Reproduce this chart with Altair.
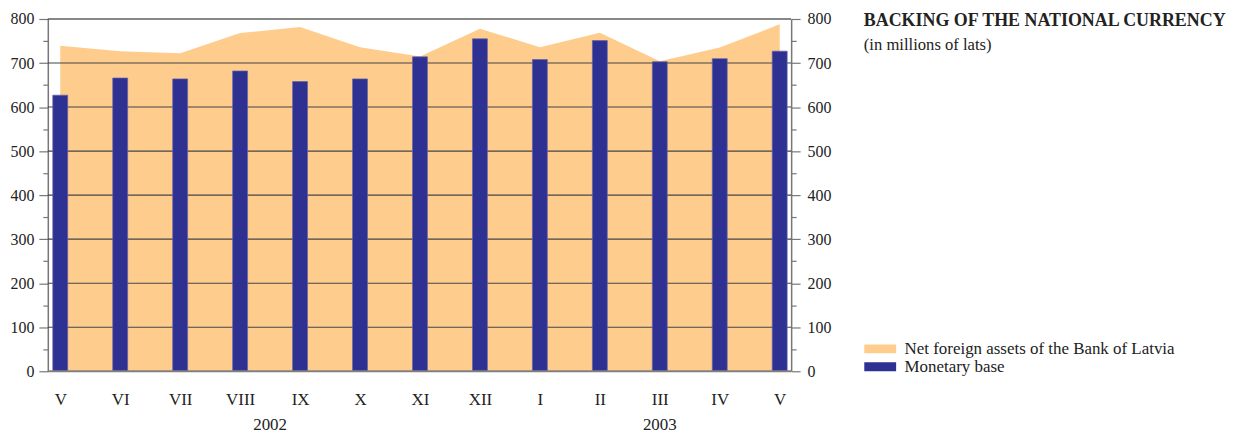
import altair as alt
import pandas as pd

# ---- data ----
months = ["V", "VI", "VII", "VIII", "IX", "X", "XI", "XII", "I", "II", "III", "IV", "V"]
years = ["2002"] * 8 + ["2003"] * 5
net_foreign_assets = [739, 727, 722, 768, 782, 736, 715, 778, 736, 769, 704, 735, 788]
monetary_base = [627, 666, 664, 682, 658, 664, 714, 755, 708, 751, 703, 710, 727]
series_names = ["Net foreign assets of the Bank of Latvia", "Monetary base"]
grid_values = [100, 200, 300, 400, 500, 600, 700]
y_ticks = list(range(0, 801, 50))
title_text = "BACKING OF THE NATIONAL CURRENCY"
subtitle_text = "(in millions of lats)"

ORANGE = "#FECD8E"
BLUE = "#2E3192"
FONT = "Liberation Serif"
TXT = "#222222"

idx = list(range(len(months)))
df = pd.DataFrame({
    "idx": idx,
    "month": months,
    "year": years,
    "nfa": net_foreign_assets,
    "mb": monetary_base,
    "s_nfa": [series_names[0]] * len(idx),
    "s_mb": [series_names[1]] * len(idx),
})

W, H = 747, 354
xscale = alt.Scale(domain=[-0.2075, 12.191], nice=False, zero=False, padding=0)
yscale = alt.Scale(domain=[0, 800], nice=False, padding=0)

label_expr = "[" + ",".join("'%s'" % m for m in months) + "][datum.value]"
xaxis = alt.Axis(values=idx, labelExpr=label_expr, domain=False, ticks=False, tickSize=0,
                 grid=False, title=None, labelPadding=20, labelFont=FONT, labelFontSize=17,
                 labelColor=TXT)

major_test = "datum.value % 100 === 0"
def yaxis(orient, pad):
    return alt.Axis(orient=orient, values=y_ticks, labelExpr="%s ? datum.label : ''" % major_test,
                    tickSize={"condition": {"test": major_test, "value": 9}, "value": 5},
                    tickColor="#777777", tickWidth=1.2, domainColor="#777777", domainWidth=1.5,
                    grid=False, title=None, labelFont=FONT, labelFontSize=16, labelColor=TXT,
                    labelPadding=pad)

legend = alt.Legend(orient="none", legendX=828, legendY=323, title=None,
                    symbolType="M-2,-0.56H2V0.56H-2Z", symbolSize=256,
                    symbolStrokeWidth=0, symbolOpacity=1, labelFont=FONT,
                    labelFontSize=17, labelColor=TXT, labelOffset=16, labelLimit=500,
                    rowPadding=0, padding=0)
cscale = alt.Scale(domain=series_names, range=[ORANGE, BLUE])

area = alt.Chart(df).mark_area(opacity=1).encode(
    x=alt.X("idx:Q", scale=xscale, axis=xaxis),
    y=alt.Y("nfa:Q", scale=yscale, axis=yaxis("left", 5)),
    color=alt.Color("s_nfa:N", scale=cscale, legend=legend),
)

grid = alt.Chart(pd.DataFrame({"v": grid_values})).mark_rule(color="#444444", strokeWidth=1.1).encode(
    y=alt.Y("v:Q", scale=yscale, axis=None)
)

bars = alt.Chart(df).mark_bar(size=15, stroke="#6264aa", strokeWidth=0.7).encode(
    x=alt.X("idx:Q", scale=xscale, axis=xaxis),
    y=alt.Y("mb:Q", scale=yscale, axis=yaxis("right", 7)),
    color=alt.Color("s_mb:N", scale=cscale, legend=legend),
)

top_line = alt.Chart(pd.DataFrame({"v": [800]})).mark_rule(color="#111111", strokeWidth=1.2).encode(
    y=alt.Y("v:Q", scale=yscale, axis=None)
)
bottom_line = alt.Chart(pd.DataFrame({"v": [0]})).mark_rule(color="#808080", strokeWidth=2).encode(
    y=alt.Y("v:Q", scale=yscale, axis=None)
)

year_text = alt.Chart(df).mark_text(font=FONT, fontSize=17, color=TXT, baseline="alphabetic").encode(
    x=alt.X("mean(idx):Q", scale=xscale, axis=xaxis),
    y=alt.value(413),
    text="year:N",
)

title = alt.Chart(pd.DataFrame({"t": [title_text]})).mark_text(
    font=FONT, fontSize=18.0, fontWeight="bold", color=TXT, align="left", baseline="alphabetic"
).encode(x=alt.value(820), y=alt.value(7), text="t:N")

subtitle = alt.Chart(pd.DataFrame({"t": [subtitle_text]})).mark_text(
    font=FONT, fontSize=16.7, color=TXT, align="left", baseline="alphabetic"
).encode(x=alt.value(820), y=alt.value(31), text="t:N")

chart = alt.layer(area, grid, bars, bottom_line, top_line, year_text, title, subtitle).resolve_axis(
    y="independent"
).properties(
    width=W, height=H,
    autosize=alt.AutoSizeParams(type="none"),
    padding={"left": 40, "top": 10, "right": 439, "bottom": 64},
).configure_view(stroke=None)

chart.save("out.html", embed_options={"renderer": "svg", "actions": False})
